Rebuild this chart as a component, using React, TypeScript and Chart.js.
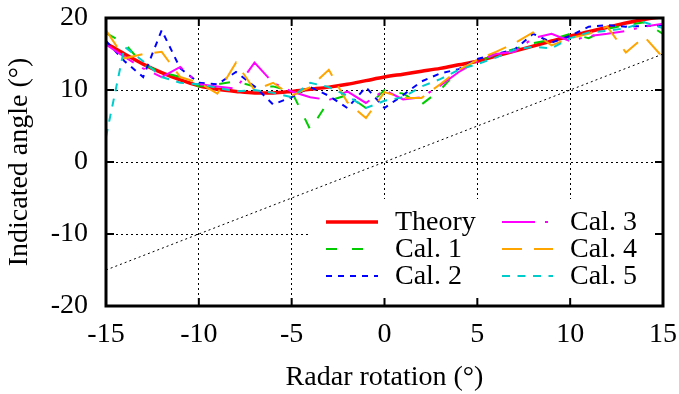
import React, { useEffect, useRef } from "react";
import { Chart, registerables } from "chart.js";

Chart.register(...registerables);

const angles = [-15, -14, -13, -12, -11, -10, -9, -8, -7, -6, -5, -4, -3, -2, -1, 0, 1, 2, 3, 4, 5, 6, 7, 8, 9, 10, 11, 12, 13, 14, 15];
const theory = [16.5, 15.0, 13.6, 12.4, 11.4, 10.6, 10.1, 9.8, 9.6, 9.6, 9.8, 10.1, 10.4, 10.8, 11.3, 11.8, 12.2, 12.6, 13.0, 13.5, 14.0, 14.7, 15.4, 16.1, 16.8, 17.5, 18.1, 18.7, 19.3, 19.8, 20.2];
const cal1 = [17.9, 16.5, 13.5, 12.5, 11.8, 10.5, 10.8, 11.2, 10.5, 10.5, 9.8, 4.5, 8.5, 9.3, 7.5, 10.0, 9.5, 8.0, 10.0, 12.8, 13.8, 15.0, 15.7, 16.5, 17.0, 17.8, 17.2, 18.5, 19.0, 19.4, 17.8];
const cal2 = [16.8, 14.0, 11.8, 18.3, 13.0, 11.0, 10.8, 12.5, 10.5, 8.0, 9.0, 10.4, 9.2, 7.5, 10.4, 7.5, 9.3, 11.2, 12.3, 12.9, 14.3, 15.0, 15.6, 17.8, 16.6, 17.5, 18.8, 19.0, 18.8, 18.9, 19.0];
const cal3 = [16.3, 14.6, 13.0, 11.8, 13.2, 10.8, 10.5, 10.2, 13.8, 11.0, 9.8, 9.0, 8.6, 9.8, 8.2, 10.0, 8.7, 9.0, 10.6, 12.5, 14.0, 15.0, 15.3, 17.2, 17.8, 16.8, 17.5, 17.8, 18.2, 18.8, 19.2];
const cal4 = [18.3, 14.4, 15.0, 15.3, 11.8, 11.0, 9.5, 13.8, 10.0, 11.0, 9.2, 10.4, 12.8, 8.3, 6.1, 9.7, 8.9, 8.9, 10.8, 12.8, 14.2, 15.3, 16.5, 18.0, 16.2, 17.2, 17.8, 18.8, 15.2, 17.4, 14.5];
const cal5 = [3.5, 16.0, 14.0, 11.8, 11.0, 10.8, 10.3, 9.8, 10.0, 9.6, 9.0, 11.0, 10.4, 9.2, 7.5, 8.5, 9.0, 10.5, 11.5, 12.8, 13.6, 14.5, 15.6, 16.0, 15.8, 17.2, 18.0, 18.2, 18.6, 19.4, 18.6];
const diagX = [-15, 15];
const diagY = [-15, 15];
const xTickValues = [-15, -10, -5, 0, 5, 10, 15];
const yTickValues = [-20, -10, 0, 10, 20];

const seriesNames = ["Theory", "Cal. 1", "Cal. 2", "Cal. 3", "Cal. 4", "Cal. 5"];
const seriesData = [theory, cal1, cal2, cal3, cal4, cal5];
const seriesColors = ["#ff0000", "#00cc00", "#0000ff", "#ff00ff", "#ffa500", "#00cccc"];
const seriesDash: number[][] = [[], [11, 15], [6, 6], [33, 10, 3, 10], [20, 12], [8, 7.5]];
const seriesWidth = [3.5, 2, 2, 2, 2, 2];

const FONT = "'Liberation Serif', 'Times New Roman', serif";
const FSIZE = 28;

const framePlugin = {
  id: "frame",
  afterDatasetsDraw(chart: any) {
    const ctx = chart.ctx;
    const a = chart.chartArea;
    const xs = chart.scales.x;
    const ys = chart.scales.y;
    ctx.save();
    // legend box
    const boxL = 310, boxT = 199;
    ctx.fillStyle = "#fff";
    ctx.fillRect(boxL, boxT, a.right - boxL, a.bottom - boxT);
    const rows = [222, 249, 276];
    const cols = [
      { s0: 326, s1: 378, t: 395 },
      { s0: 502, s1: 553, t: 570 },
    ];
    ctx.font = `${FSIZE}px ${FONT}`;
    ctx.textBaseline = "middle";
    ctx.textAlign = "left";
    for (let i = 0; i < seriesNames.length; i++) {
      const c = cols[Math.floor(i / 3)];
      const y = rows[i % 3];
      ctx.strokeStyle = seriesColors[i];
      ctx.lineWidth = seriesWidth[i];
      ctx.setLineDash(seriesDash[i]);
      ctx.beginPath();
      ctx.moveTo(c.s0, y);
      ctx.lineTo(c.s1, y);
      ctx.stroke();
      ctx.setLineDash([]);
      ctx.fillStyle = "#000";
      ctx.fillText(seriesNames[i], c.t, y + 1);
    }
    // tick marks
    ctx.strokeStyle = "#000";
    ctx.lineWidth = 2;
    ctx.setLineDash([]);
    const tl = 8;
    for (const v of xTickValues) {
      const px = xs.getPixelForValue(v);
      ctx.beginPath();
      ctx.moveTo(px, a.bottom);
      ctx.lineTo(px, a.bottom - tl);
      ctx.moveTo(px, a.top);
      ctx.lineTo(px, a.top + tl);
      ctx.stroke();
    }
    for (const v of yTickValues) {
      const py = ys.getPixelForValue(v);
      ctx.beginPath();
      ctx.moveTo(a.left, py);
      ctx.lineTo(a.left + tl, py);
      ctx.moveTo(a.right, py);
      ctx.lineTo(a.right - tl, py);
      ctx.stroke();
    }
    // border
    ctx.lineWidth = 3;
    ctx.strokeRect(a.left, a.top, a.right - a.left, a.bottom - a.top);
    // axis titles
    ctx.fillStyle = "#000";
    ctx.font = `${FSIZE}px ${FONT}`;
    ctx.textAlign = "center";
    ctx.textBaseline = "middle";
    ctx.fillText("Radar rotation (°)", (a.left + a.right) / 2, 378);
    ctx.translate(20, (a.top + a.bottom) / 2);
    ctx.rotate(-Math.PI / 2);
    ctx.fillText("Indicated angle (°)", 0, 0);
    ctx.restore();
  },
};

export default function App() {
  const ref = useRef<HTMLCanvasElement>(null);
  useEffect(() => {
    if (!ref.current) return;
    const datasets: any[] = seriesData.map((d, i) => ({
      label: seriesNames[i],
      data: angles.map((x, j) => ({ x, y: d[j] })),
      borderColor: seriesColors[i],
      borderWidth: seriesWidth[i],
      borderDash: seriesDash[i],
      pointRadius: 0,
      fill: false,
      tension: 0,
      cubicInterpolationMode: i === 0 ? "monotone" : "default",
      order: 6 - i,
    }));
    datasets.push({
      label: "diag",
      data: diagX.map((x, j) => ({ x, y: diagY[j] })),
      borderColor: "#000",
      borderWidth: 1,
      borderDash: [2, 3],
      pointRadius: 0,
      fill: false,
      order: 10,
    });
    const font = { family: FONT, size: FSIZE };
    const chart = new Chart(ref.current, {
      type: "line",
      data: { datasets },
      options: {
        animation: false,
        responsive: false,
        devicePixelRatio: 1,
        layout: { padding: { left: 0, right: 16, top: 18, bottom: 0 } },
        plugins: { legend: { display: false }, tooltip: { enabled: false } },
        scales: {
          x: {
            type: "linear",
            min: -15,
            max: 15,
            ticks: { stepSize: 5, font, color: "#000", padding: 12, maxRotation: 0, autoSkip: false },
            grid: { color: "#000", lineWidth: 1, drawTicks: false },
            border: { display: false, dash: [2, 3] },
            afterFit: (s: any) => { s.height = 88; s.paddingLeft = 0; s.paddingRight = 0; },
          },
          y: {
            type: "linear",
            min: -20,
            max: 20,
            ticks: { stepSize: 10, font, color: "#000", padding: 18, autoSkip: false },
            grid: { color: "#000", lineWidth: 1, drawTicks: false },
            border: { display: false, dash: [2, 3] },
            afterFit: (s: any) => { s.width = 106; s.paddingTop = 0; s.paddingBottom = 0; },
          },
        },
      } as any,
      plugins: [framePlugin],
    });
    return () => chart.destroy();
  }, []);
  return (
    <div style={{ position: "absolute", left: 0, top: 0, width: 679, height: 394, background: "#fff" }}>
      <canvas ref={ref} width={679} height={394} style={{ width: 679, height: 394 }} />
    </div>
  );
}
